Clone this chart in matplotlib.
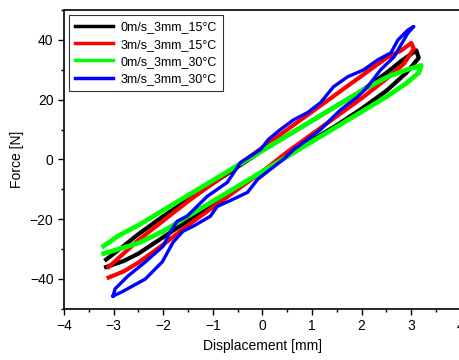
import matplotlib
matplotlib.use('Agg')
import matplotlib.pyplot as plt
from matplotlib.ticker import MultipleLocator

plt.rcParams['font.family'] = ['Liberation Sans', 'DejaVu Sans']

## data: each loop goes left end -> lower branch -> right end -> upper branch -> back
labels = ['0m/s_3mm_15°C', '3m/s_3mm_15°C', '0m/s_3mm_30°C', '3m/s_3mm_30°C']
colors = ['#000000', '#ff0000', '#00ff00', '#0000ff']

black_x = [-3.15, -2.8, -2.5, -2.0, -1.5, -1.0, -0.5, 0.0, 0.5, 1.0, 1.5, 2.0, 2.5, 2.9, 3.15,
           3.1, 2.8, 2.5, 2.0, 1.5, 1.0, 0.5, 0.0, -0.5, -1.0, -1.5, -2.0, -2.5, -2.8, -3.15]
black_y = [-36.0, -34.0, -31.5, -26.0, -20.5, -15.0, -9.5, -4.0, 1.5, 6.5, 11.5, 17.0, 23.0, 29.0, 34.0,
           36.5, 33.0, 29.0, 23.0, 18.0, 13.0, 8.0, 3.0, -2.5, -8.0, -13.5, -19.0, -25.0, -29.0, -33.5]

red_x = [-3.1, -2.8, -2.5, -2.0, -1.5, -1.0, -0.5, 0.0, 0.5, 1.0, 1.5, 2.0, 2.5, 2.85, 3.05,
         3.0, 2.8, 2.5, 2.0, 1.5, 1.0, 0.5, 0.0, -0.5, -1.0, -1.5, -2.0, -2.5, -2.8, -3.1]
red_y = [-39.5, -37.5, -34.5, -28.5, -22.0, -16.0, -10.0, -4.0, 2.5, 8.5, 14.5, 20.5, 27.0, 32.0, 37.0,
         39.0, 36.5, 34.0, 28.0, 22.0, 16.0, 10.0, 4.0, -2.0, -8.0, -14.0, -20.5, -27.0, -31.5, -36.0]

green_x = [-3.2, -2.9, -2.5, -2.0, -1.5, -1.0, -0.5, 0.0, 0.5, 1.0, 1.5, 2.0, 2.5, 2.9, 3.15,
           3.2, 2.9, 2.5, 2.0, 1.5, 1.0, 0.5, 0.0, -0.5, -1.0, -1.5, -2.0, -2.5, -2.9, -3.2]
green_y = [-31.5, -30.0, -28.0, -24.0, -19.0, -14.0, -9.0, -4.0, 1.0, 6.0, 11.0, 16.0, 21.0, 25.5, 29.0,
           31.5, 30.0, 27.5, 23.0, 18.0, 13.0, 8.0, 3.0, -2.0, -7.0, -12.0, -17.0, -22.0, -25.5, -29.0]

blue_x = [-3.01, -2.83, -2.36, -2.02, -1.8, -1.6, -1.39, -1.05, -0.91, -0.59, -0.3, -0.1, 0.16, 0.42,
          0.63, 0.91, 1.17, 1.37, 1.58, 1.92, 2.12, 2.38, 2.65, 2.85, 2.93,
          3.05, 2.93, 2.73, 2.59, 2.32, 2.04, 1.72, 1.43, 1.17, 0.91, 0.63, 0.36, 0.12, -0.04, -0.44,
          -0.71, -1.11, -1.52, -1.72, -1.86, -2.0, -2.36, -2.71, -2.97, -3.01]
blue_y = [-45.7, -44.3, -40.0, -34.3, -27.7, -24.0, -22.3, -19.0, -15.7, -13.3, -11.0, -6.7, -3.3, 0.0,
          3.3, 6.7, 10.0, 13.3, 16.7, 21.0, 24.3, 30.0, 34.3, 40.0, 42.3,
          44.5, 43.3, 40.0, 35.7, 33.3, 30.0, 27.7, 24.3, 19.0, 15.7, 13.3, 10.0, 6.7, 3.3, -1.0,
          -7.7, -12.3, -19.0, -20.7, -24.3, -29.0, -34.3, -39.0, -43.3, -45.7]

series_x = [black_x, red_x, green_x, blue_x]
series_y = [black_y, red_y, green_y, blue_y]
widths = [3.0, 3.0, 3.4, 2.4]

fig = plt.figure(figsize=(4.6, 3.6), dpi=100)
ax = fig.add_axes([0.139, 0.142, 0.863, 0.83])

for xs, ys, c, lab, w in zip(series_x, series_y, colors, labels, widths):
    ax.plot(xs, ys, color=c, lw=w, label=lab, solid_joinstyle='round')

ax.set_xlim(-4, 4)
ax.set_ylim(-50, 50)
ax.xaxis.set_major_locator(MultipleLocator(1))
ax.xaxis.set_minor_locator(MultipleLocator(0.5))
ax.yaxis.set_major_locator(MultipleLocator(20))
ax.yaxis.set_minor_locator(MultipleLocator(10))
ax.tick_params(which='major', direction='out', length=4, width=1, labelsize=10)
ax.tick_params(which='minor', direction='out', length=2, width=1)
for s in ax.spines.values():
    s.set_linewidth(1.2)

ax.set_xlabel('Displacement [mm]', fontsize=10)
ax.set_ylabel('Force [N]', fontsize=10)

leg = ax.legend(loc='upper left', fontsize=9, frameon=True, fancybox=False,
                edgecolor='black', handlelength=3, borderaxespad=0.4,
                labelspacing=0.42, borderpad=0.5, handletextpad=0.6)
leg.get_frame().set_linewidth(0.8)
for h in leg.get_lines():
    h.set_linewidth(2.5)

fig.savefig('out.png', dpi=100)
